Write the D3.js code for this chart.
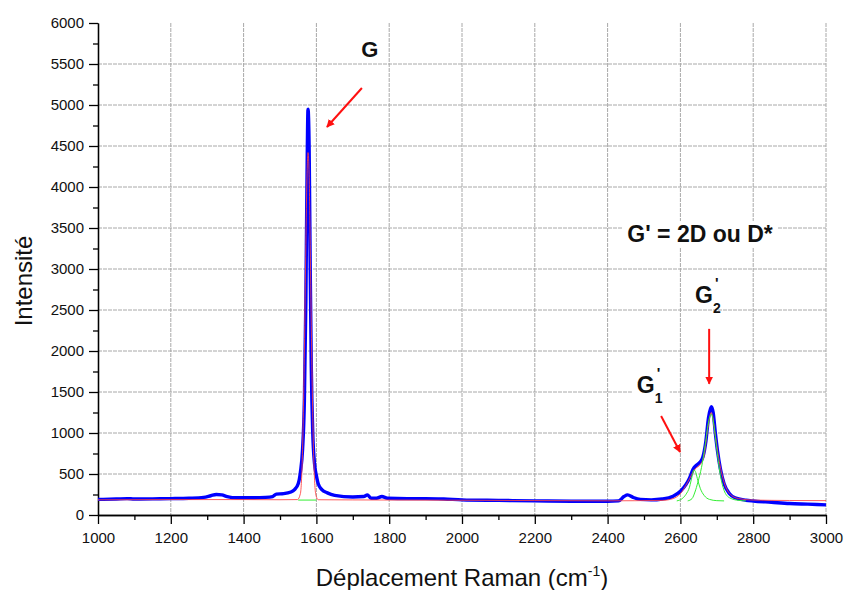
<!DOCTYPE html>
<html><head><meta charset="utf-8">
<script src="https://cdn.jsdelivr.net/npm/d3@7"></script>
<style>body{margin:0;background:#fff;} text{font-family:"Liberation Sans",Arial,sans-serif;}</style>
</head><body><svg id="c" width="844" height="590"></svg>
<script>
// Measured spectrum (blue)
const spectrumX = [1000,1050,1080,1100,1150,1200,1250,1290,1310,1325,1340,1355,1380,1420,1460,1480,1490,1510,1530,1540,1550,1556,1562,1567,1571,1574,1577,1580,1583,1586,1590,1595,1600,1605,1615,1630,1650,1700,1730,1740,1750,1765,1780,1795,1850,1900,1950,2000,2100,2200,2300,2400,2430,2445,2455,2470,2490,2520,2550,2580,2600,2615,2625,2635,2645,2655,2662,2670,2677,2685,2690,2696,2702,2710,2720,2735,2750,2780,2800,2850,2900,2950,3000];
const spectrumY = [190,195,200,195,197,200,205,215,235,250,245,225,210,210,215,225,255,260,280,310,380,520,800,1400,2600,4000,4950,4500,3000,1800,1000,620,480,380,310,270,240,220,225,245,205,205,225,205,200,200,195,185,178,172,168,167,172,225,245,215,190,185,195,230,290,370,450,560,610,650,710,900,1180,1320,1250,1000,780,560,380,260,210,180,170,155,140,132,124];
// Fitted curve (red)
const fitX = [1000,1200,1400,1500,1548,1556,1562,1567,1571,1574,1577,1580,1583,1587,1592,1598,1605,1700,2000,2200,2400,2550,2580,2600,2620,2640,2655,2665,2675,2685,2695,2705,2720,2740,2760,2800,2900,3000];
const fitY = [185,188,188,186,188,260,800,2000,3300,4100,4420,4150,3300,2000,800,260,186,184,180,176,173,178,200,260,400,560,620,720,1050,1250,1000,700,400,240,200,182,177,175];
// Fitted components (green)
const compGX = [1550,1600];
const compGY = [182,182];
const compG1X = [2590,2605,2615,2625,2632,2637,2642,2648,2655,2665,2680,2700,2720];
const compG1Y = [172,200,250,340,470,550,520,420,320,240,190,175,172];
const compG2X = [2620,2632,2640,2648,2658,2668,2678,2685,2692,2700,2710,2720,2735,2760,2780];
const compG2Y = [172,200,280,400,580,850,1150,1230,1100,800,480,300,210,178,172];
// Axis ticks
const xTicks = [1000,1200,1400,1600,1800,2000,2200,2400,2600,2800,3000];
const yTicks = [0,500,1000,1500,2000,2500,3000,3500,4000,4500,5000,5500,6000];

const svg = d3.select("#c");
const m = {l:98, t:23, r:18, b:75};
const W = 844 - m.l - m.r, H = 590 - m.t - m.b;
const x = d3.scaleLinear().domain([1000,3000]).range([m.l, m.l+W]);
const y = d3.scaleLinear().domain([0,6000]).range([m.t+H, m.t]);

// grid
const g = svg.append("g");
g.selectAll(".gy").data(yTicks.filter(d=>d>0 && d<6000)).enter().append("line")
  .attr("x1", m.l).attr("x2", m.l+W).attr("y1", d=>y(d)).attr("y2", d=>y(d))
  .attr("stroke","#a8a8a8").attr("stroke-width",1).attr("stroke-dasharray","4,1");
g.selectAll(".gx").data(xTicks.filter(d=>d>1000)).enter().append("line")
  .attr("y1", m.t).attr("y2", m.t+H).attr("x1", d=>x(d)).attr("x2", d=>x(d))
  .attr("stroke","#a8a8a8").attr("stroke-width",1).attr("stroke-dasharray","4,1");

// axes
const xAxis = d3.axisBottom(x).tickValues(xTicks).tickSize(9).tickPadding(8).tickSizeOuter(0).tickFormat(d3.format("d"));
const yAxis = d3.axisLeft(y).tickValues(yTicks).tickSize(9).tickPadding(5).tickSizeOuter(0).tickFormat(d3.format("d"));
const xMinor = d3.axisBottom(x).tickValues(d3.range(1100,3000,200)).tickSize(5).tickSizeOuter(0).tickFormat("");
const yMinor = d3.axisLeft(y).tickValues(d3.range(250,6000,500)).tickSize(5).tickSizeOuter(0).tickFormat("");
function style(sel){ sel.select(".domain").attr("stroke","#000").attr("stroke-width",1.3);
  sel.selectAll(".tick line").attr("stroke","#000").attr("stroke-width",1.3);
  sel.selectAll("text").attr("font-size",15).attr("fill","#111").attr("font-family","Liberation Sans, Arial"); }
svg.append("g").attr("transform",`translate(0,${m.t+H})`).call(xMinor).call(style);
svg.append("g").attr("transform",`translate(${m.l},0)`).call(yMinor).call(style);
svg.append("g").attr("transform",`translate(0,${m.t+H})`).call(xAxis).call(style);
svg.append("g").attr("transform",`translate(${m.l},0)`).call(yAxis).call(style);

// titles
svg.append("text").attr("x", 462).attr("y", 586).attr("text-anchor","middle").attr("font-size",24).attr("fill","#111")
  .html('Déplacement Raman (cm<tspan dy="-10" font-size="14">-1</tspan><tspan dy="10">)</tspan>');
svg.append("text").attr("transform","translate(32,281) rotate(-90)").attr("text-anchor","middle").attr("font-size",24).attr("fill","#111").text("Intensité");

// curves
const line = d3.line().x(d=>x(d[0])).y(d=>y(d[1])).curve(d3.curveMonotoneX);
const zip = (a,b)=>a.map((v,i)=>[v,b[i]]);
svg.append("path").attr("d", line(zip(spectrumX,spectrumY))).attr("fill","none").attr("stroke","#0000ff").attr("stroke-width",3.4).attr("stroke-linejoin","round");
svg.append("path").attr("d", line(zip(fitX,fitY))).attr("fill","none").attr("stroke","#ff4040").attr("stroke-width",1).attr("opacity",0.85);
[[compGX,compGY],[compG1X,compG1Y],[compG2X,compG2Y]].forEach(([a,b])=>{
  svg.append("path").attr("d", line(zip(a,b))).attr("fill","none").attr("stroke","#33ee33").attr("stroke-width",1);
});

// annotations
const defs = svg.append("defs");
defs.append("marker").attr("id","ah").attr("viewBox","0 0 10 10").attr("refX",9).attr("refY",5)
  .attr("markerWidth",4).attr("markerHeight",4).attr("orient","auto")
  .append("path").attr("d","M0,0 L10,5 L0,10 z").attr("fill","#ff1010");
function label(px,py,txt,fs,padR){
  const t = svg.append("text").attr("x",px).attr("y",py).attr("text-anchor","middle").attr("font-size",fs).attr("font-weight","bold").attr("fill","#111").text(txt);
  const bb = t.node().getBBox();
  svg.insert("rect", () => t.node()).attr("x",bb.x-5).attr("y",bb.y).attr("width",bb.width+10+(padR||0)).attr("height",bb.height).attr("fill","#fff");
  return t;
}
function arrow(x1,y1,x2,y2){
  svg.append("line").attr("x1",x(x1)).attr("y1",y(y1)).attr("x2",x(x2)).attr("y2",y(y2))
    .attr("stroke","#ff1010").attr("stroke-width",2).attr("marker-end","url(#ah)");
}
function primed(cx,cy,sub){
  label(x(cx), y(cy), "G", 23, 10);
  svg.append("text").attr("x",x(cx)+9).attr("y",y(cy)+10).attr("font-size",14).attr("font-weight","bold").attr("fill","#111").text(sub);
  svg.append("text").attr("x",x(cx)+11).attr("y",y(cy)-15).attr("font-size",15).attr("font-weight","bold").attr("fill","#111").text("'");
}
label(x(1747), y(5585), "G", 22);
arrow(1725,5207,1629,4732);
label(x(2654), y(3329), "G' = 2D ou D*", 23);
primed(2665, 2585, "2");
arrow(2679,2270,2679,1600);
primed(2505, 1488, "1");
arrow(2547,1207,2599,768);
</script></body></html>
